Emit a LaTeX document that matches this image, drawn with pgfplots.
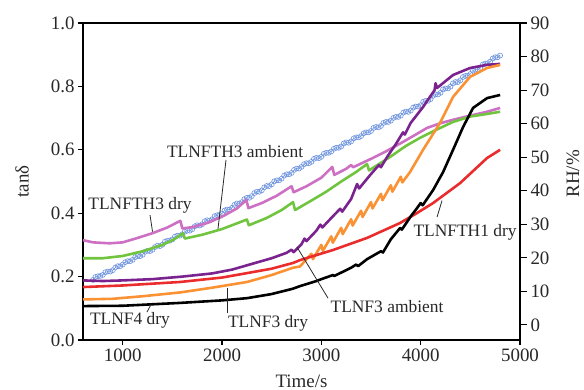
\documentclass[border=0pt]{standalone}
\usepackage{pgfplots}
\pgfplotsset{compat=1.18}
\usepackage{fontspec}
\setmainfont{Liberation Serif}

\definecolor{cpink}{RGB}{205,112,195}
\definecolor{cgreen}{RGB}{112,196,62}
\definecolor{cpurple}{RGB}{122,34,142}
\definecolor{corange}{RGB}{250,146,52}
\definecolor{cred}{RGB}{234,44,44}
\definecolor{cblue}{RGB}{108,146,222}
\definecolor{ctext}{RGB}{40,40,40}

\newcommand{\tickfont}{\fontsize{19}{19}\selectfont}
\newcommand{\notefont}{\fontsize{17.5}{18}\selectfont}

\begin{document}
\begin{tikzpicture}
% relative humidity, right-hand axis
\begin{axis}[
  name=rh,
  scale only axis, width=437bp, height=317bp,
  xmin=600, xmax=5000, ymin=-4.5, ymax=90,
  axis x line=none, axis y line*=right,
  ytick={0,10,...,90},
  tick align=outside, major tick length=7bp,
  axis line style={line width=1.3pt},
  every tick/.style={line width=1.1pt, black},
  tick label style={font=\tickfont, text=ctext},
  /pgf/number format/assume math mode=true,
  ylabel={RH/\%},
  ylabel style={font=\tickfont, text=ctext, at={(axis description cs:1.1213,0.524)}, anchor=center},
]
\addplot[cblue, line width=0.5pt, mark=o, mark size=2.5pt, mark options={line width=0.6pt}] table {
t rh
700 13.4
725 14.3
750 14.5
775 14.6
800 14.9
825 15.7
850 15.9
875 15.9
900 16.3
925 17.1
950 17.5
975 17.5
1000 18.0
1025 18.7
1050 19.0
1075 19.0
1100 19.4
1125 20.2
1150 20.5
1175 20.5
1200 20.9
1225 21.8
1250 22.1
1275 22.0
1300 22.4
1325 23.2
1350 23.6
1375 23.5
1400 23.9
1425 24.8
1450 25.1
1475 25.1
1500 25.5
1525 26.3
1550 26.6
1575 26.6
1600 27.0
1625 27.8
1650 28.1
1675 28.1
1700 28.5
1725 29.4
1750 29.7
1775 29.6
1800 30.0
1825 30.9
1850 31.2
1875 31.1
1900 31.5
1925 32.4
1950 32.7
1975 32.8
2000 33.2
2025 34.1
2050 34.4
2075 34.4
2100 34.9
2125 35.8
2150 36.2
2175 36.2
2200 36.6
2225 37.5
2250 37.9
2275 37.9
2300 38.4
2325 39.3
2350 39.7
2375 39.7
2400 40.1
2425 41.0
2450 41.4
2475 41.4
2500 41.9
2525 42.8
2550 43.1
2575 43.1
2600 43.6
2625 44.5
2650 44.9
2675 44.9
2700 45.3
2725 46.2
2750 46.6
2775 46.6
2800 47.1
2825 47.9
2850 48.2
2875 48.2
2900 48.6
2925 49.5
2950 49.8
2975 49.7
3000 50.1
3025 51.0
3050 51.3
3075 51.3
3100 51.7
3125 52.5
3150 52.8
3175 52.8
3200 53.2
3225 54.1
3250 54.4
3275 54.3
3300 54.7
3325 55.6
3350 55.9
3375 55.9
3400 56.3
3425 57.1
3450 57.4
3475 57.4
3500 57.8
3525 58.7
3550 59.0
3575 58.9
3600 59.3
3625 60.2
3650 60.5
3675 60.5
3700 60.9
3725 61.7
3750 62.0
3775 62.0
3800 62.4
3825 63.3
3850 63.6
3875 63.5
3900 63.9
3925 64.8
3950 65.1
3975 65.1
4000 65.5
4025 66.5
4050 66.8
4075 66.8
4100 67.3
4125 68.3
4150 68.7
4175 68.7
4200 69.2
4225 70.2
4250 70.5
4275 70.5
4300 71.0
4325 72.0
4350 72.4
4375 72.4
4400 72.9
4425 73.9
4450 74.2
4475 74.3
4500 74.8
4525 75.8
4550 76.1
4575 76.1
4600 76.6
4625 77.6
4650 77.9
4675 78.0
4700 78.5
4725 79.4
4750 79.8
4775 79.8
4800 80.3
};
\end{axis}

% loss tangent, left-hand axis
\begin{axis}[
  name=main,
  scale only axis, width=437bp, height=317bp,
  xmin=600, xmax=5000, ymin=0, ymax=1,
  xtick={1000,2000,...,5000}, ytick={0,0.2,...,1.0},
  xtick pos=bottom, ytick pos=left,
  tick align=outside, major tick length=5bp,
  axis line style={line width=1.3pt},
  every tick/.style={line width=1.1pt, black},
  tick label style={font=\tickfont, text=ctext},
  /pgf/number format/assume math mode=true,
  /pgf/number format/1000 sep={},
  scaled x ticks=false,
  yticklabel style={/pgf/number format/fixed, /pgf/number format/fixed zerofill, /pgf/number format/precision=1},
  xlabel={Time/s},
  xlabel style={font=\tickfont, text=ctext, at={(axis description cs:0.5,-0.129)}, anchor=center},
  ylabel={tanδ},
  ylabel style={font=\tickfont, text=ctext, at={(axis description cs:-0.1396,0.5)}, anchor=center},
  every axis plot/.append style={line width=2.6pt, line join=round},
]
% TLNFTH3 dry
\addplot[cpink] table {
600 0.315
700 0.308
870 0.305
1000 0.308
1150 0.322
1300 0.337
1450 0.355
1580 0.376
1600 0.352
1700 0.356
1850 0.369
2000 0.389
2150 0.415
2245 0.442
2265 0.416
2400 0.432
2550 0.455
2700 0.485
2720 0.466
2850 0.485
3000 0.512
3110 0.546
3130 0.521
3250 0.540
3300 0.552
3320 0.545
3490 0.570
3650 0.595
3800 0.621
3950 0.648
4064 0.669
4200 0.684
4330 0.695
4500 0.708
4668 0.720
4800 0.732
};
% TLNFTH3 ambient
\addplot[cgreen] table {
600 0.258
800 0.258
1000 0.265
1200 0.280
1400 0.300
1520 0.318
1607 0.337
1625 0.320
1800 0.332
2000 0.350
2150 0.368
2250 0.380
2270 0.362
2450 0.385
2600 0.410
2715 0.435
2735 0.410
2900 0.440
3050 0.468
3200 0.500
3350 0.530
3460 0.555
3480 0.535
3690 0.577
3850 0.612
3990 0.637
4150 0.662
4326 0.688
4500 0.705
4668 0.713
4800 0.720
};
% TLNF3 ambient
\addplot[cpurple] table {
600 0.188
800 0.186
1000 0.188
1300 0.192
1600 0.200
1900 0.210
2100 0.222
2300 0.240
2500 0.258
2650 0.275
2700 0.285
2720 0.277
2800 0.302
2830 0.320
2850 0.312
2950 0.345
2990 0.364
3010 0.355
3100 0.385
3190 0.414
3210 0.405
3300 0.445
3360 0.492
3380 0.478
3490 0.520
3580 0.552
3600 0.545
3661 0.577
3750 0.618
3822 0.655
3840 0.648
3900 0.685
4024 0.735
4100 0.770
4140 0.788
4150 0.810
4165 0.795
4326 0.836
4497 0.858
4668 0.868
4800 0.871
};
% TLNF3 dry
\addplot[corange] table {
600 0.128
900 0.130
1200 0.138
1577 0.150
1900 0.165
2252 0.183
2500 0.205
2715 0.228
2785 0.232
2900 0.272
2915 0.255
3000 0.300
3015 0.281
3100 0.327
3115 0.307
3200 0.354
3215 0.334
3300 0.381
3315 0.361
3400 0.408
3415 0.388
3500 0.435
3515 0.415
3600 0.461
3615 0.441
3700 0.488
3715 0.468
3800 0.515
3815 0.497
3893 0.530
4024 0.600
4195 0.685
4326 0.767
4497 0.830
4668 0.858
4800 0.868
};
% TLNFTH1 dry
\addplot[cred] table {
600 0.167
1000 0.172
1577 0.183
2000 0.197
2252 0.211
2500 0.225
2715 0.243
2785 0.252
3118 0.284
3460 0.322
3792 0.369
3950 0.398
4125 0.432
4397 0.495
4668 0.574
4800 0.600
};
% TLNF4 dry
\addplot[black] table {
600 0.107
1000 0.108
1577 0.117
2000 0.125
2252 0.132
2500 0.145
2715 0.162
2785 0.170
2950 0.186
3000 0.192
3118 0.205
3130 0.202
3300 0.228
3350 0.238
3370 0.233
3460 0.255
3600 0.280
3620 0.276
3700 0.318
3792 0.353
3810 0.348
3900 0.390
3963 0.416
4000 0.432
4020 0.425
4125 0.473
4226 0.530
4326 0.600
4427 0.672
4527 0.732
4668 0.763
4800 0.773
};

% curve labels with leader lines
\begin{scope}[every node/.style={font=\notefont, text=ctext, inner sep=0pt}]
\node at (axis cs:2131,0.593) {TLNFTH3 ambient};
\draw[ctext, line width=0.8pt] (axis cs:2040,0.568) -- (axis cs:1959,0.350);
\node at (axis cs:1174,0.426) {TLNFTH3 dry};
\draw[ctext, line width=0.8pt] (axis cs:1275,0.394) -- (axis cs:1300,0.342);
\node at (axis cs:1073,0.063) {TLNF4 dry};
\draw[ctext, line width=0.8pt] (axis cs:1244,0.088) -- (axis cs:1285,0.112);
\node at (axis cs:2463,0.054) {TLNF3 dry};
\draw[ctext, line width=0.8pt] (axis cs:2050,0.085) -- (axis cs:2050,0.165);
\node at (axis cs:3661,0.104) {TLNF3 ambient};
\draw[ctext, line width=0.8pt] (axis cs:3067,0.132) -- (axis cs:2755,0.293);
\node at (axis cs:4447,0.341) {TLNFTH1 dry};
\draw[ctext, line width=0.8pt] (axis cs:4165,0.388) -- (axis cs:4215,0.440);
\end{scope}
\end{axis}

\pgfresetboundingbox
\path[use as bounding box] ([xshift=-83bp,yshift=-50bp]main.south west) rectangle ([xshift=64bp,yshift=23bp]main.north east);
\end{tikzpicture}
\end{document}
